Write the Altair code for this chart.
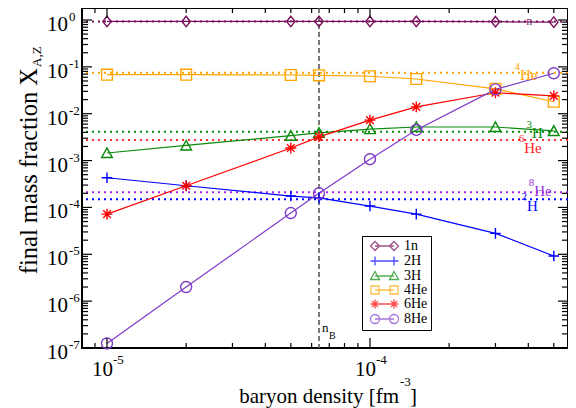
import altair as alt
import pandas as pd

# ---------------- data ----------------
series = ["1n", "2H", "3H", "4He", "6He", "8He"]
density = [1e-5, 2e-5, 5e-5, 6.4e-5, 1e-4, 1.5e-4, 3e-4, 5e-4]
x_1n = [0.93, 0.93, 0.93, 0.93, 0.93, 0.93, 0.92, 0.90]
x_2H = [4.3e-4, 2.9e-4, 1.75e-4, 1.6e-4, 1.07e-4, 7.2e-5, 2.8e-5, 9.2e-6]
x_3H = [1.45e-3, 2.1e-3, 3.4e-3, 3.9e-3, 4.7e-3, 5.2e-3, 5.2e-3, 4.3e-3]
x_4He = [0.068, 0.068, 0.067, 0.066, 0.063, 0.055, 0.034, 0.018]
x_6He = [7.2e-5, 2.9e-4, 1.85e-3, 3.2e-3, 7.3e-3, 0.014, 0.028, 0.024]
x_8He = [1.25e-7, 2.0e-6, 7.6e-5, 2.0e-4, 1.07e-3, 4.5e-3, 0.033, 0.073]
n_B = 6.4e-5

ref_keys = ["ref_n", "ref_2H", "ref_3H", "ref_4He", "ref_6He", "ref_8He"]
ref_levels = [0.93, 1.5e-4, 4.1e-3, 0.075, 2.75e-3, 2.1e-4]
ref_sup = ["", "2", "3", "4", "6", "8"]
ref_main = ["n", "H", "H", "He", "He", "He"]
ref_label_x = [4.03e-4, 3.95e-4, 4.13e-4, 3.72e-4, 3.86e-4, 4.21e-4]
ref_main_dy = [0, 7, 1, 2, 8, -1]
ref_sup_dy = [0, -2, -7, -6, -1, -9]

x_major = [1e-5, 1e-4]
x_minor = [9e-6] + [k * 1e-5 for k in range(2, 10)] + [k * 1e-4 for k in range(2, 6)]
y_exps = [-7, -6, -5, -4, -3, -2, -1, 0]
y_major = [10.0 ** e for e in y_exps]
y_minor = [k * 10.0 ** e for e in range(-7, 0) for k in range(2, 10)]
x_exps = [-5, -4]

# ---------------- styles ----------------
colors = ["#7a0f5c", "#0000ff", "#0a8a0a", "#ffa500", "#ff0000", "#7d3cc8"]
ref_colors = ["#7a0f5c", "#0000ff", "#0a8a0a", "#ffa500", "#ff3030", "#b020f0"]
label_colors = ["#8a3a78", "#0000ff", "#0a8a0a", "#ffa500", "#ff2020", "#9a30e0"]
SERIF = "Liberation Serif"

shapes = [
    "M0,-1L0.8,0L0,1L-0.8,0Z",
    "M-1,0H1M0,-1V1",
    "M-1,0.85L0,-0.95L1,0.85Z",
    "square",
    "M-1,0H1M0,-1V1M-0.7,-0.7L0.7,0.7M-0.7,0.7L0.7,-0.7",
    "circle",
]
sizes = [110, 121, 121, 81, 100, 121]


def at(c, tpl):
    return tpl.format(a=c - 0.9, b=c, d=c + 0.9, e=c - 0.8, f=c + 0.8,
                      g=c - 0.63, h=c + 0.63)


def legend_path(tpl):
    return "M-1.9,0H1.9" + at(-1.9, tpl) + at(1.9, tpl)


legend_shapes = [
    legend_path("M{b},-0.9L{d},0L{b},0.9L{a},0Z"),
    legend_path("M{a},0H{d}M{b},-0.9V0.9"),
    legend_path("M{a},0.7L{b},-0.9L{d},0.7Z"),
    legend_path("M{e},-0.8H{f}V0.8H{e}Z"),
    legend_path("M{a},0H{d}M{b},-0.9V0.9M{g},-0.63L{h},0.63M{g},0.63L{h},-0.63"),
    legend_path("M{d},0A0.9,0.9 0 1,1 {a},0A0.9,0.9 0 1,1 {d},0Z"),
]

W, H = 486, 340
xscale = alt.Scale(type="log", domain=[8.035e-6, 5.662e-4], nice=False)
yscale = alt.Scale(type="log", domain=[1e-7, 1.803], nice=False)
cscale = alt.Scale(domain=series + ref_keys, range=colors + ref_colors)

# ---------------- tables ----------------
vals = [x_1n, x_2H, x_3H, x_4He, x_6He, x_8He]
rows = []
for s, v in zip(series, vals):
    for xd, yv in zip(density, v):
        rows.append({"series": s, "x": xd, "y": yv})
df = pd.DataFrame(rows)
df_ref = pd.DataFrame({"key": ref_keys, "level": ref_levels})
df_lab = pd.DataFrame({"key": ref_keys, "level": ref_levels, "sup": ref_sup,
                       "main": ref_main, "lx": ref_label_x})

X = lambda f="x:Q": alt.X(f, scale=xscale, axis=None)
Y = lambda f="y:Q": alt.Y(f, scale=yscale, axis=None)

layers = []

# reference dotted levels
layers.append(alt.Chart(df_ref).mark_rule(strokeDash=[2, 4], strokeWidth=2).encode(
    y=Y("level:Q"), color=alt.Color("key:N", scale=cscale, legend=None)))

# n_B dashed line
layers.append(alt.Chart(pd.DataFrame({"x": [n_B]})).mark_rule(
    strokeDash=[5, 3], strokeWidth=1.6, color="#5a5a5a").encode(x=X()))

# series lines and markers
layers.append(alt.Chart(df).mark_line(strokeWidth=1.2).encode(
    x=X(), y=Y(), color=alt.Color("series:N", scale=cscale, legend=None),
    order="x:Q"))
layers.append(alt.Chart(df).mark_point(filled=False, strokeWidth=1.4, opacity=1).encode(
    x=X(), y=Y(), color=alt.Color("series:N", scale=cscale, legend=None),
    shape=alt.Shape("series:N", scale=alt.Scale(domain=series, range=shapes), legend=None),
    size=alt.Size("series:N", scale=alt.Scale(domain=series, range=sizes), legend=None)))

# level labels
for i in range(len(ref_keys)):
    sub = df_lab.iloc[[i]]
    if ref_sup[i]:
        layers.append(alt.Chart(sub).mark_text(
            align="right", baseline="middle", font=SERIF, fontSize=11,
            dy=ref_sup_dy[i], color=label_colors[i]).encode(
            x=X("lx:Q"), y=Y("level:Q"), text="sup:N"))
        layers.append(alt.Chart(sub).mark_text(
            align="left", baseline="middle", font=SERIF, fontSize=15,
            dy=ref_main_dy[i], color=label_colors[i]).encode(
            x=X("lx:Q"), y=Y("level:Q"), text="main:N"))
    else:
        layers.append(alt.Chart(sub).mark_text(
            align="center", baseline="middle", font=SERIF, fontSize=12,
            dy=ref_main_dy[i], color=label_colors[i]).encode(
            x=X("lx:Q"), y=Y("level:Q"), text="main:N"))

# n_B label
df_nb = pd.DataFrame({"x": [n_B], "n": ["n"], "b": ["B"]})
layers.append(alt.Chart(df_nb).mark_text(align="left", baseline="middle", font=SERIF,
                                         fontSize=13, dx=3).encode(
    x=X(), y=alt.value(320), text="n:N"))
layers.append(alt.Chart(df_nb).mark_text(align="left", baseline="middle", font=SERIF,
                                         fontSize=10, dx=10).encode(
    x=X(), y=alt.value(328), text="b:N"))

# inward ticks on all four sides
def xticks(values, y0, y1):
    return alt.Chart(pd.DataFrame({"v": values})).mark_rule(
        color="black", strokeWidth=1.2).encode(
        x=X("v:Q"), y=alt.value(y0), y2=alt.value(y1))


def yticks(values, x0, x1):
    return alt.Chart(pd.DataFrame({"v": values})).mark_rule(
        color="black", strokeWidth=1.2).encode(
        y=Y("v:Q"), x=alt.value(x0), x2=alt.value(x1))


layers += [xticks(x_major, H, H - 10), xticks(x_minor, H, H - 5),
           xticks(x_major, 0, 10), xticks(x_minor, 0, 5),
           yticks(y_major, 0, 10), yticks(y_minor, 0, 6),
           yticks(y_major, W, W - 10), yticks(y_minor, W, W - 6)]

# tick labels (10 with raised exponent)
df_yl = pd.DataFrame({"v": y_major, "e": [str(e) for e in y_exps]})
layers.append(alt.Chart(df_yl).mark_text(align="right", baseline="middle", font=SERIF,
                                         fontSize=21, dy=5).encode(
    y=Y("v:Q"), x=alt.value(-14), text=alt.value("10")))
layers.append(alt.Chart(df_yl).mark_text(align="left", baseline="middle", font=SERIF,
                                         fontSize=13, dy=-3).encode(
    y=Y("v:Q"), x=alt.value(-13), text="e:N"))
df_xl = pd.DataFrame({"v": x_major, "e": [str(e) for e in x_exps]})
layers.append(alt.Chart(df_xl).mark_text(align="right", baseline="middle", font=SERIF,
                                         fontSize=21, dx=6).encode(
    x=X("v:Q"), y=alt.value(H + 22), text=alt.value("10")))
layers.append(alt.Chart(df_xl).mark_text(align="left", baseline="middle", font=SERIF,
                                         fontSize=13, dx=6).encode(
    x=X("v:Q"), y=alt.value(H + 12), text="e:N"))

# axis titles
t = pd.DataFrame({"a": ["baryon density [fm"], "b": ["-3"], "c": ["]"],
                  "d": ["final mass fraction X"], "e": ["A,Z"]})
layers.append(alt.Chart(t).mark_text(align="right", baseline="alphabetic", font=SERIF,
                                     fontSize=21).encode(
    x=alt.value(317), y=alt.value(395), text="a:N"))
layers.append(alt.Chart(t).mark_text(align="left", baseline="middle", font=SERIF,
                                     fontSize=13).encode(
    x=alt.value(318), y=alt.value(374), text="b:N"))
layers.append(alt.Chart(t).mark_text(align="left", baseline="alphabetic", font=SERIF,
                                     fontSize=21).encode(
    x=alt.value(328), y=alt.value(395), text="c:N"))
layers.append(alt.Chart(t).mark_text(align="right", baseline="alphabetic", font=SERIF,
                                     fontSize=24.5, angle=270).encode(
    x=alt.value(-45), y=alt.value(60), text="d:N"))
layers.append(alt.Chart(t).mark_text(align="left", baseline="alphabetic", font=SERIF,
                                     fontSize=13, angle=270).encode(
    x=alt.value(-41), y=alt.value(59), text="e:N"))

# legend carrier (points placed below the plot and clipped away)
df_leg = pd.DataFrame({"series": series, "x": [1e-5] * 6, "y": [1e-9] * 6})
leg = alt.Legend(orient="none", legendX=280, legendY=228, title=None,
                 strokeColor="black", fillColor="white", padding=3,
                 labelFont=SERIF, labelFontSize=14, labelColor="black",
                 symbolStrokeWidth=1.3, symbolSize=100, symbolOffset=12.5,
                 labelOffset=12.5, rowPadding=-3, cornerRadius=0)
layers.append(alt.Chart(df_leg).mark_point(filled=False, clip=True, strokeWidth=1.3).encode(
    x=X(), y=Y(),
    color=alt.Color("series:N", scale=alt.Scale(domain=series, range=colors), legend=leg),
    shape=alt.Shape("series:N", scale=alt.Scale(domain=series, range=legend_shapes), legend=leg),
    size=alt.value(100)))

chart = alt.layer(*layers).resolve_scale(
    color="independent", shape="independent", size="independent"
).properties(
    width=W, height=H, autosize="none",
    padding={"left": 74, "top": 0, "right": 0, "bottom": 60},
    background="white",
).configure_view(stroke="black", strokeWidth=2)

chart.save("out.html", embed_options={"renderer": "svg", "actions": False})
